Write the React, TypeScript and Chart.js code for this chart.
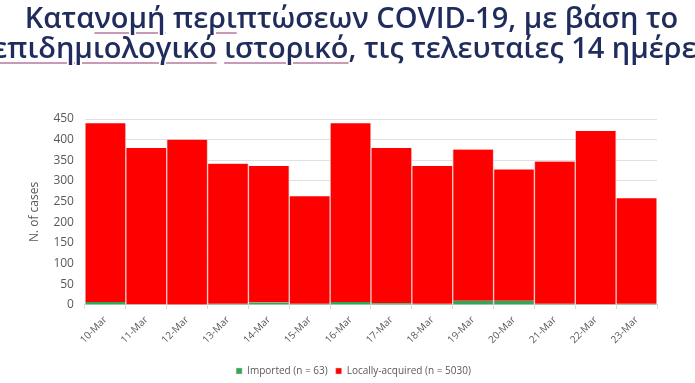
import React, { useEffect, useRef } from "react";
import { Chart, registerables } from "chart.js";

Chart.register(...registerables);

const categories = [
  "10-Mar", "11-Mar", "12-Mar", "13-Mar", "14-Mar", "15-Mar", "16-Mar",
  "17-Mar", "18-Mar", "19-Mar", "20-Mar", "21-Mar", "22-Mar", "23-Mar",
];
const imported = [7, 2, 0, 3, 6, 3, 7, 4, 3, 10, 10, 3, 2, 3];
const locallyAcquired = [433, 378, 400, 339, 330, 260, 433, 376, 333, 366, 318, 344, 419, 255];
const legendLabels = ["Imported (n = 63)", "Locally-acquired (n = 5030)"];
const yTitle = "N. of cases";

const FONT = "'Open Sans', sans-serif";

const legendShift = {
  id: "legendShift",
  afterLayout(chart: any) {
    const lg = chart.legend;
    if (lg) {
      lg.left += 14;
      lg.right += 14;
      lg.top += 7;
      lg.bottom += 7;
    }
  },
};

const u: React.CSSProperties = {
  textDecorationLine: "underline",
  textDecorationColor: "#c79ab8",
  textDecorationThickness: "1.5px",
  textUnderlineOffset: "4px",
};

export default function App() {
  const ref = useRef<HTMLCanvasElement | null>(null);
  useEffect(() => {
    if (!ref.current) return;
    const chart = new Chart(ref.current, {
      type: "bar",
      data: {
        labels: categories,
        datasets: [
          {
            label: legendLabels[0],
            data: imported,
            backgroundColor: "#2fa85a",
            borderColor: "#f2c9c9",
            borderWidth: { left: 1, right: 1, top: 0, bottom: 0 },
            barPercentage: 1,
            categoryPercentage: 1,
          },
          {
            label: legendLabels[1],
            data: locallyAcquired,
            backgroundColor: "#ff0000",
            borderColor: "#f2c9c9",
            borderWidth: { left: 1, right: 1, top: 0, bottom: 0 },
            barPercentage: 1,
            categoryPercentage: 1,
          },
        ],
      },
      plugins: [legendShift],
      options: {
        animation: false,
        responsive: true,
        maintainAspectRatio: false,
        layout: { padding: { left: 22, right: 38, top: 119, bottom: 4 } },
        plugins: {
          title: { display: false },
          legend: {
            position: "bottom",
            labels: {
              color: "#595959",
              boxWidth: 6,
              boxHeight: 6,
              font: { family: FONT, size: 10 },
              padding: 8,
            },
          },
          tooltip: { enabled: false },
        },
        scales: {
          x: {
            stacked: true,
            grid: { display: true, drawOnChartArea: false, color: "#d9d9d9", tickLength: 4 },
            border: { display: true, color: "#d9d9d9" },
            ticks: {
              color: "#595959",
              font: { family: FONT, size: 10 },
              maxRotation: 45,
              minRotation: 45,
              autoSkip: false,
              padding: 5,
            },
          },
          y: {
            stacked: true,
            min: 0,
            max: 450,
            ticks: {
              stepSize: 50,
              color: "#595959",
              font: { family: FONT, size: 12 },
              padding: 11,
            },
            grid: { color: "#e0e0e0", drawTicks: false },
            border: { display: false },
            title: {
              display: true,
              text: yTitle,
              color: "#595959",
              font: { family: FONT, size: 12 },
              padding: { top: 5, bottom: 1 },
            },
          },
        },
      },
    });
    return () => chart.destroy();
  }, []);

  const lineStyle: React.CSSProperties = {
    height: 30,
    lineHeight: "30px",
    whiteSpace: "nowrap",
    textAlign: "center",
    transformOrigin: "center",
  };

  return (
    <div
      style={{
        position: "fixed",
        left: 0,
        top: 0,
        width: 695,
        height: 383,
        background: "#fff",
        overflow: "hidden",
      }}
    >
      <canvas ref={ref} />
      <div
        style={{
          position: "absolute",
          left: -100,
          width: 895,
          top: 2,
          fontFamily: FONT,
          fontWeight: 600,
          fontSize: 29,
          color: "#1f2c5c",
        }}
      >
        <div style={{ ...lineStyle, transform: "translateX(4px)" }}>
          Κατα<span style={u}>νομή</span> πε<span style={u}>ρι</span>πτώσεων COVID-19, με βάση το
        </div>
        <div style={{ ...lineStyle, transform: "translateX(4px)" }}>
          <span style={u}>επιδημιολογικό</span> <span style={u}>ιστορικό</span>, τις τελευταίες 14 ημέρες
        </div>
      </div>
    </div>
  );
}
